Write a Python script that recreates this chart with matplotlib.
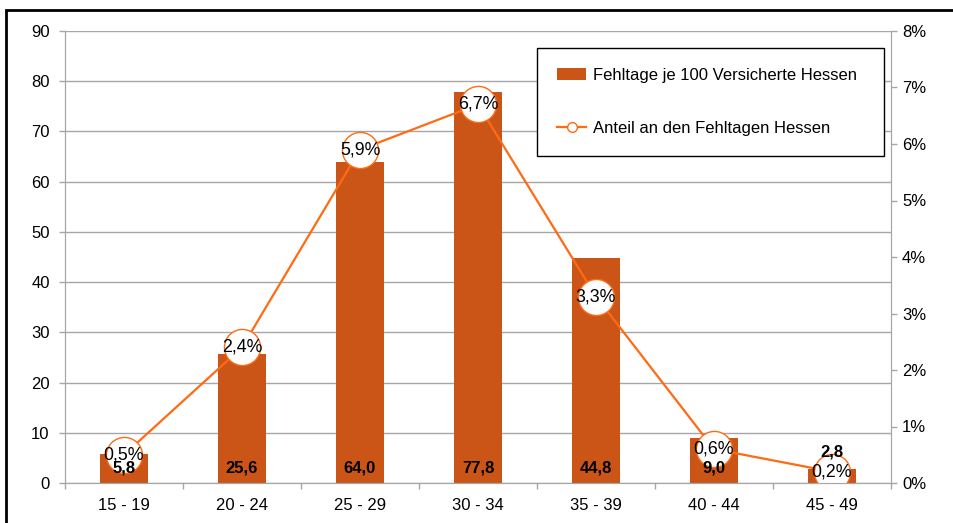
import matplotlib.pyplot as plt
from matplotlib.patches import Rectangle, Patch
from matplotlib.lines import Line2D
import numpy as np

plt.rcParams["font.family"] = ["Liberation Sans", "DejaVu Sans"]
plt.rcParams["font.size"] = 12

altersgruppen = ["15 - 19", "20 - 24", "25 - 29", "30 - 34", "35 - 39", "40 - 44", "45 - 49"]
fehltage = [5.8, 25.6, 64.0, 77.8, 44.8, 9.0, 2.8]
anteil = [0.005, 0.024, 0.059, 0.067, 0.033, 0.006, 0.002]

FARBE_BALKEN = "#CB5517"
FARBE_LINIE = "#FF6A13"
FARBE_GITTER = "#A6A6A6"

W, H = 954, 523
fig = plt.figure(figsize=(W / 100, H / 100), dpi=100)
ax = fig.add_axes([65 / W, 1 - 483 / H, (891 - 65) / W, (483 - 31) / H])
ax2 = ax.twinx()

x = np.arange(len(altersgruppen))
ax.bar(x, fehltage, width=0.41, color=FARBE_BALKEN, zorder=2)
ax.set_xlim(-0.5, len(altersgruppen) - 0.5)
ax.set_ylim(0, 90)
ax.set_yticks(np.arange(0, 91, 10))
ax.yaxis.grid(True, color=FARBE_GITTER, linewidth=1.0)
ax.set_axisbelow(True)

# Kategorie-Beschriftungen mittig, Teilstriche an den Grenzen
ax.set_xticks(x)
ax.set_xticklabels(altersgruppen)
ax.tick_params(axis="x", which="major", length=0, pad=11)
ax.set_xticks(np.arange(-0.5, len(altersgruppen)), minor=True)
ax.tick_params(axis="x", which="minor", length=4, color=FARBE_GITTER, width=1)
ax.tick_params(axis="y", length=4, pad=7, color=FARBE_GITTER, width=1)

for sp in ["left", "bottom", "right"]:
    ax.spines[sp].set_color(FARBE_GITTER)
    ax2.spines[sp].set_color(FARBE_GITTER)
ax.spines["top"].set_visible(False)
ax2.spines["top"].set_visible(False)

ax2.plot(x, anteil, color=FARBE_LINIE, linewidth=1.6, marker="o", markersize=26,
         markerfacecolor="white", markeredgecolor=FARBE_LINIE, markeredgewidth=1.0)
ax2.set_ylim(0, 0.08)
ax2.set_yticks(np.arange(0, 0.081, 0.01))
ax2.set_yticklabels([f"{int(round(v * 100))}%" for v in np.arange(0, 0.081, 0.01)])
ax2.tick_params(axis="y", length=4, pad=4, color=FARBE_GITTER, width=1)

# Prozentwerte in den Kreisen
for i, v in enumerate(anteil):
    ax2.text(i, v, f"{v * 100:.1f}%".replace(".", ","), ha="center", va="center",
             fontsize=12.8, zorder=5)

# Balkenwerte: am Balkenfuß, bei sehr kurzen Balken darüber
for i, v in enumerate(fehltage):
    label = f"{v:.1f}".replace(".", ",")
    if v < 4:
        ax2.annotate(label, xy=(i, v), xycoords=ax.transData, xytext=(0, 17),
                     textcoords="offset pixels", ha="center", va="center",
                     fontweight="bold", fontsize=12, zorder=6)
    else:
        ax2.annotate(label, xy=(i, 0), xycoords=ax.transData, xytext=(0, 15),
                     textcoords="offset pixels", ha="center", va="center",
                     fontweight="bold", fontsize=12, zorder=6)

handles = [
    Patch(facecolor=FARBE_BALKEN, edgecolor="none"),
    Line2D([0], [0], color=FARBE_LINIE, linewidth=1.6, marker="o", markersize=7,
           markerfacecolor="white", markeredgecolor=FARBE_LINIE),
]
leg = ax2.legend(handles, ["Fehltage je 100 Versicherte Hessen", "Anteil an den Fehltagen Hessen"],
                 loc="upper left", bbox_to_anchor=(537 / W, 1 - 155 / H, 347 / W, 107 / H),
                 bbox_transform=fig.transFigure, mode="expand", frameon=True, fancybox=False,
                 borderpad=1.2, labelspacing=2.25, handlelength=1.75, handletextpad=0.4,
                 borderaxespad=0, fontsize=12)
leg.get_frame().set_edgecolor("black")
leg.get_frame().set_linewidth(1.0)
leg.get_frame().set_alpha(1)

# äußerer Rahmen
fig.add_artist(Rectangle((6 / W, -0.1), 2.0, 1 - 10 / H + 0.1, transform=fig.transFigure,
                         fill=False, edgecolor="black", linewidth=2.0, clip_on=False))

fig.savefig("out.png", dpi=100)
